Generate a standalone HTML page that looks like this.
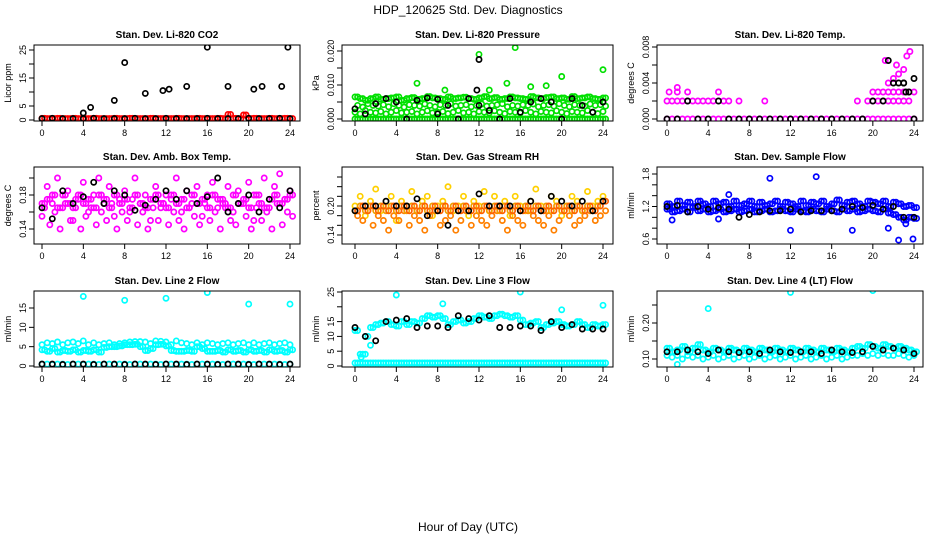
<!DOCTYPE html>
<html><head><meta charset="utf-8"><style>
html,body{margin:0;padding:0;background:#fff;}
svg{display:block;font-family:"Liberation Sans",sans-serif;}
</style></head><body>
<svg id="chart" width="936" height="540" viewBox="0 0 936 540" xmlns="http://www.w3.org/2000/svg">
<text x="468" y="14" font-size="12" text-anchor="middle">HDP_120625  Std. Dev. Diagnostics</text>
<text x="468" y="531" font-size="12" text-anchor="middle">Hour of Day (UTC)</text>
</svg>
<script>
// ---- data ----
const xTicks=[0,4,8,12,16,20,24];
// CO2
const co2Red=[0.6,0.5,0.5,0.6,0.5,0.5,0.6,0.5,0.5,0.5,0.6,0.5,0.5,0.5,0.6,0.5,0.5,0.6,0.5,0.5,0.5,0.6,0.5,0.5,0.5,0.5,0.6,0.5,0.5,0.5,0.6,0.5,0.5,0.5,0.6,0.5,2.0,0.6,0.5,1.8,0.5,0.6,0.5,0.5,0.6,0.5,0.5,0.6,0.5];
const co2Blk=[0.5,0.6,0.5,0.5,0.5,0.6,0.5,0.5,0.5,0.6,0.5,0.5,0.6,0.5,0.5,0.5,0.6,0.5,0.5,0.5,0.6,0.5,0.5,0.6,0.5];
const co2OutH=[4,4.7,7,8,10,11.7,12.3,14,16,18,20.5,21.3,23.2,23.8];
const co2OutV=[2.5,4.5,7,20.5,9.5,10.5,11,12,26,12,11,12,12,26];
// Pressure
const prsA=[0.0065,0.006,0.0055,0.006,0.0065,0.0058,0.006,0.0062,0.0065,0.0055,0.006,0.0063,0.0058,0.006,0.0066,0.0062,0.006,0.0058,0.0065,0.006,0.0062,0.0064,0.006,0.0058,0.0062,0.0066,0.006,0.0063,0.0058,0.006,0.0065,0.0062,0.006,0.0058,0.0066,0.0062,0.006,0.0063,0.0065,0.006,0.0062,0.0058,0.0066,0.006,0.0062,0.0065,0.006,0.0058,0.0062];
const prsB=[0.004,0.0035,0.0045,0.004,0.0038,0.0042,0.0036,0.0045,0.004,0.0035,0.0042,0.004,0.0038,0.0044,0.004,0.0036,0.0042,0.004,0.0045,0.0038,0.004,0.0042,0.0036,0.004,0.0044,0.0038,0.004,0.0042,0.0045,0.0036,0.004,0.0038,0.0042,0.004,0.0044,0.0036,0.004,0.0042,0.0038,0.0045,0.004,0.0036,0.0042,0.004,0.0038,0.0044,0.004,0.0042,0.0038];
const prsC=[0.002,0.0015,0.0025,0.002,0.0018,0.0022,0.0015,0.002,0.0025,0.0018,0.002,0.0022,0.0015,0.002,0.0024,0.0018,0.002,0.0022,0.0016,0.002,0.0025,0.0018,0.002,0.0015,0.0022,0.002,0.0018,0.0024,0.002,0.0016,0.0022,0.002,0.0018,0.0025,0.002,0.0015,0.0022,0.002,0.0018,0.0024,0.002,0.0016,0.0022,0.002,0.0018,0.0025,0.002,0.0016,0.0022];
const prsD=[0,0,0,0,0,0,0,0,0,0,0,0,0,0,0,0,0,0,0,0,0,0,0,0,0,0,0,0,0,0,0,0,0,0,0,0,0,0,0,0,0,0,0,0,0,0,0,0,0];
const prsBlk=[0.003,0.0015,0.0045,0.006,0.005,0.0,0.0055,0.0062,0.0058,0.004,0.0,0.006,0.004,0.0025,0.0,0.006,0.002,0.005,0.006,0.005,0.0,0.006,0.004,0.002,0.005];
const prsGrnOutH=[6,8.7,12,13,15.5,14.7,17,18.5,20,24];
const prsGrnOutV=[0.0105,0.0085,0.019,0.0085,0.021,0.0105,0.0095,0.0098,0.0125,0.0145];
const prsBlkOutH=[12,11.8,8];
const prsBlkOutV=[0.0175,0.0085,0.0015];
// Li-820 temp
const tmpMag=[0,0,0,0,0,0,0,0,0,0,0,0,0,0,0,0,0,0,0,0,0,0,0,0,0,0,0,0,0,0,0,0,0,0,0,0,0,0,0,0,0,0,0,0,0,0,0,0,0];
const tmpMagH=[0,0.5,1,1.5,2,2.5,3,3.5,4,4.5,5.5,6,7,9.5,18.5,19.5,20,20.5,21,21.5,22,22.5,23,23.5,0.2,1,2,5,20,20.5,21,21.5,22,22.5,23,23.5,24,1,21.5,22,22.5,23,23.3,23.6,21.2,22.3];
const tmpMagV=[0.002,0.002,0.002,0.002,0.002,0.002,0.002,0.002,0.002,0.002,0.002,0.002,0.002,0.002,0.002,0.002,0.002,0.002,0.002,0.002,0.002,0.002,0.002,0.002,0.003,0.003,0.003,0.003,0.003,0.003,0.003,0.003,0.003,0.003,0.003,0.003,0.003,0.0035,0.004,0.0045,0.005,0.0055,0.007,0.0075,0.0065,0.006];
const tmpBlk=[0,0,0.002,0,0,0.002,0,0,0,0,0,0,0,0,0,0,0,0,0,0,0.002,0.002,0.004,0.004,0];
const tmpBlkOutH=[21.5,22.5,23,23.5,24,23.2];
const tmpBlkOutV=[0.0065,0.004,0.004,0.003,0.0045,0.003];
// Amb box temp
const boxA=[0.155,0.19,0.17,0.2,0.165,0.185,0.15,0.175,0.195,0.16,0.18,0.2,0.17,0.19,0.155,0.175,0.185,0.16,0.2,0.17,0.18,0.15,0.19,0.165,0.18,0.175,0.2,0.16,0.185,0.17,0.19,0.155,0.18,0.195,0.165,0.175,0.19,0.16,0.185,0.17,0.195,0.15,0.18,0.2,0.165,0.19,0.205,0.175,0.185];
const boxB=[0.165,0.145,0.16,0.14,0.17,0.15,0.175,0.14,0.155,0.165,0.145,0.16,0.15,0.17,0.14,0.16,0.15,0.175,0.145,0.16,0.14,0.165,0.15,0.17,0.145,0.16,0.15,0.14,0.165,0.155,0.145,0.17,0.15,0.16,0.14,0.165,0.15,0.145,0.17,0.155,0.14,0.165,0.15,0.16,0.14,0.17,0.145,0.16,0.155];
const boxC=[0.17,0.175,0.18,0.165,0.18,0.17,0.165,0.18,0.17,0.175,0.165,0.18,0.175,0.165,0.18,0.17,0.175,0.165,0.18,0.17,0.165,0.175,0.18,0.17,0.165,0.18,0.17,0.175,0.165,0.18,0.17,0.175,0.165,0.18,0.175,0.17,0.165,0.18,0.17,0.175,0.165,0.18,0.17,0.165,0.175,0.18,0.17,0.175,0.18];
const boxBlk=[0.165,0.152,0.185,0.17,0.178,0.195,0.17,0.185,0.18,0.162,0.168,0.175,0.185,0.175,0.185,0.17,0.178,0.2,0.16,0.17,0.18,0.16,0.175,0.165,0.185];
// Gas stream RH
const rhA=[0.2,0.22,0.18,0.21,0.235,0.19,0.2,0.22,0.17,0.21,0.2,0.23,0.19,0.21,0.22,0.18,0.2,0.21,0.24,0.19,0.2,0.22,0.18,0.21,0.2,0.23,0.19,0.22,0.2,0.21,0.18,0.22,0.2,0.19,0.21,0.235,0.2,0.19,0.22,0.21,0.18,0.2,0.22,0.21,0.19,0.23,0.2,0.21,0.22];
const rhB=[0.18,0.17,0.19,0.16,0.18,0.17,0.15,0.18,0.17,0.19,0.16,0.18,0.17,0.15,0.18,0.19,0.16,0.17,0.18,0.15,0.17,0.19,0.16,0.18,0.17,0.16,0.18,0.19,0.17,0.15,0.18,0.17,0.16,0.19,0.18,0.17,0.16,0.18,0.15,0.17,0.19,0.18,0.16,0.17,0.18,0.19,0.17,0.18,0.19];
const rhC=[0.19,0.2,0.19,0.2,0.19,0.2,0.19,0.2,0.19,0.2,0.19,0.2,0.19,0.2,0.19,0.2,0.19,0.2,0.19,0.2,0.19,0.2,0.19,0.2,0.19,0.2,0.19,0.2,0.19,0.2,0.19,0.2,0.19,0.2,0.19,0.2,0.19,0.2,0.19,0.2,0.19,0.2,0.19,0.2,0.19,0.2,0.19,0.2,0.21];
const rhBlk=[0.19,0.2,0.2,0.21,0.2,0.2,0.215,0.18,0.19,0.16,0.19,0.19,0.225,0.2,0.2,0.2,0.19,0.21,0.19,0.22,0.21,0.2,0.21,0.19,0.21];
// Sample flow
const sfA=[1.25,1.2,1.3,1.22,1.28,1.2,1.3,1.25,1.2,1.3,1.25,1.28,1.2,1.3,1.22,1.25,1.3,1.2,1.28,1.22,1.25,1.3,1.2,1.28,1.25,1.2,1.3,1.22,1.28,1.25,1.3,1.2,1.25,1.32,1.22,1.28,1.3,1.25,1.2,1.3,1.28,1.25,1.3,1.2,1.28,1.25,1.2,1.22,1.18];
const sfB=[1.15,1.1,1.12,1.15,1.1,1.18,1.12,1.15,1.1,1.12,1.15,1.1,1.12,1.15,1.1,1.12,1.15,1.1,1.12,1.15,1.1,1.12,1.15,1.12,1.1,1.15,1.12,1.1,1.15,1.12,1.1,1.15,1.12,1.1,1.15,1.12,1.15,1.1,1.12,1.15,1.12,1.1,1.15,1.08,1.05,1.0,0.95,1.0,0.98];
const sfBlk=[1.2,1.22,1.1,1.2,1.15,1.18,1.15,1.0,1.05,1.1,1.12,1.12,1.15,1.1,1.12,1.12,1.12,1.15,1.2,1.18,1.22,1.15,1.2,1.0,1.0];
const sfOutH=[0.5,6,12,14.5,18,21.5,22.5,23.2,23.9,5,10];
const sfOutV=[0.95,1.42,0.76,1.75,0.76,0.8,0.58,0.88,0.6,0.97,1.72];
// Line 2 flow
const l2A=[5.5,6,5.8,6.2,5.5,6,6.2,5.8,6.5,5.5,6,5.5,5.8,6,5.5,5.8,6,6.2,6.3,6.3,6.2,5.8,6.5,6.4,6.2,5.5,6.5,6,5.8,5.5,6,5.5,6,5.8,5.5,5.8,6,5.5,5.8,6,5.5,6,5.5,5.8,6,5.5,5.8,6,5.5];
const l2B=[4.2,3.8,4.5,3.6,4,3.8,4.2,3.6,4,3.8,4.2,3.6,4.8,5,5,5.2,5.5,5.5,5.6,5,4,4.5,5.5,5.6,5.2,4,3.8,3.8,4,3.8,5,4.5,3.8,3.8,4,3.6,4.2,3.8,4,3.6,4.2,3.8,4,3.6,4.2,3.8,4,3.6,4.2];
const l2C=[0.5,0.5,0.4,0.5,0.5,0.4,0.5,0.5,0.4,0.5,0.5,0.4,0.5,0.5,0.4,0.5,0.5,0.4,0.5,0.5,0.4,0.5,0.5,0.4,0.5,0.5,0.4,0.5,0.5,0.4,0.5,0.5,0.4,0.5,0.5,0.4,0.5,0.5,0.4,0.5,0.5,0.4,0.5,0.5,0.4,0.5,0.5,0.4,0.5];
const l2Blk=[0.5,0.5,0.4,0.5,0.5,0.4,0.5,0.5,0.4,0.5,0.5,0.4,0.5,0.5,0.4,0.5,0.5,0.4,0.5,0.5,0.4,0.5,0.5,0.4,0.5];
const l2OutH=[4,8,12,16,20,24];
const l2OutV=[18,17,17.5,19,16,16];
// Line 3 flow
const l3A=[12,4,10,13,14,14.5,15,14,13.5,15,14,15,14.5,16,17,16.5,17,16,14,15,15.5,14.5,15,16,17,16.5,16,17,17.5,17,16.5,17,15.5,14,14.5,15,13,14,14.5,15,14,13.5,14,15,14,13,14,13.5,14];
const l3B=[1,1,1,1,1,1,1,1,1,1,1,1,1,1,1,1,1,1,1,1,1,1,1,1,1,1,1,1,1,1,1,1,1,1,1,1,1,1,1,1,1,1,1,1,1,1,1,1,1];
const l3Blk=[13,10,8.5,15,15.5,16,13,13.5,13.5,13,17,16,15.5,17,13,13,13.5,13.5,12,15,13,14,12.5,12.5,12.5];
const l3OutH=[4,8.5,16,20,24,0.6,1,1.5];
const l3OutV=[24,21,25,19,20.5,3,4,7];
// Line 4 flow
const l4A=[0.13,0.12,0.125,0.135,0.12,0.13,0.14,0.125,0.12,0.13,0.125,0.12,0.13,0.125,0.12,0.13,0.125,0.12,0.13,0.125,0.12,0.13,0.125,0.12,0.13,0.125,0.12,0.13,0.125,0.12,0.13,0.125,0.12,0.13,0.125,0.12,0.13,0.135,0.13,0.14,0.135,0.13,0.14,0.135,0.13,0.135,0.13,0.125,0.12];
const l4B=[0.11,0.105,0.11,0.1,0.11,0.105,0.11,0.1,0.105,0.11,0.1,0.105,0.11,0.1,0.105,0.11,0.1,0.105,0.11,0.1,0.105,0.11,0.1,0.105,0.11,0.1,0.105,0.11,0.1,0.105,0.11,0.1,0.105,0.11,0.1,0.105,0.11,0.11,0.115,0.11,0.115,0.11,0.115,0.11,0.11,0.115,0.11,0.105,0.11];
const l4Blk=[0.12,0.12,0.125,0.12,0.115,0.125,0.12,0.118,0.12,0.115,0.125,0.12,0.118,0.12,0.12,0.115,0.125,0.12,0.118,0.12,0.135,0.125,0.13,0.125,0.115];
const l4OutH=[4,12,20,1];
const l4OutV=[0.24,0.285,0.29,0.085];

// ---- drawing ----
const NS="http://www.w3.org/2000/svg";
const svg=document.getElementById('chart');
function mk(tag,attrs,parent){const e=document.createElementNS(NS,tag);for(const k in attrs)e.setAttribute(k,attrs[k]);(parent||svg).appendChild(e);return e;}
const cols=[{bx0:34,bx1:300,t0:42,t1:290},{bx0:342,bx1:613,t0:355,t1:603},{bx0:657,bx1:923,t0:667,t1:914}];
const rows=[{by0:45,by1:121},{by0:167,by1:244},{by0:291,by1:367}];
const half=[];for(let i=0;i<49;i++)half.push(i*0.5);
const qtr=[];for(let i=0;i<49;i++)qtr.push(i*0.5+0.25);
const hourly=[];for(let i=0;i<25;i++)hourly.push(i);

const panels=[
 {r:0,c:0,name:'co2',title:'Stan. Dev. Li-820 CO2',ylab:'Licor ppm',v0:0,p0:120,v1:25,p1:50,ticks:[0,5,10,15,20,25],tl:['0','5','','15','','25'],
  series:[[half,co2Red,'#ff0000'],[qtr,co2Red,'#ff0000'],[hourly,co2Blk,'#000'],[co2OutH,co2OutV,'#000']]},
 {r:0,c:1,name:'pressure',title:'Stan. Dev. Li-820 Pressure',ylab:'kPa',v0:0,p0:119,v1:0.02,p1:51,ticks:[0,0.005,0.01,0.015,0.02],tl:['0.000','','0.010','','0.020'],
  series:[[half,prsD,'#00e000'],[qtr,prsD,'#00e000'],[half,prsC,'#00e000'],[qtr,prsB,'#00e000'],[half,prsA,'#00e000'],[qtr,prsA,'#00e000'],[prsGrnOutH,prsGrnOutV,'#00e000'],[hourly,prsBlk,'#000'],[prsBlkOutH,prsBlkOutV,'#000']]},
 {r:0,c:2,name:'li820-temp',title:'Stan. Dev. Li-820 Temp.',ylab:'degrees C',v0:0,p0:119,v1:0.008,p1:47,ticks:[0,0.002,0.004,0.006,0.008],tl:['0.000','','0.004','','0.008'],
  series:[[half,tmpMag,'#ff00ff'],[tmpMagH,tmpMagV,'#ff00ff'],[hourly,tmpBlk,'#000'],[tmpBlkOutH,tmpBlkOutV,'#000']]},
 {r:1,c:0,name:'box-temp',title:'Stan. Dev. Amb. Box Temp.',ylab:'degrees C',v0:0.14,p0:229,v1:0.18,p1:195,ticks:[0.14,0.16,0.18,0.2],tl:['0.14','','0.18',''],
  series:[[half,boxA,'#ff00ff'],[qtr,boxB,'#ff00ff'],[half,boxC,'#ff00ff'],[qtr,boxC,'#ff00ff'],[hourly,boxBlk,'#000']]},
 {r:1,c:1,name:'gas-rh',title:'Stan. Dev. Gas Stream RH',ylab:'percent',v0:0.14,p0:235,v1:0.2,p1:206,ticks:[0.14,0.16,0.18,0.2,0.22,0.24,0.26],tl:['0.14','','','0.20','','',''],
  series:[[half,rhA,'#ffd000'],[qtr,rhB,'#ff8000'],[half,rhC,'#f0a000'],[qtr,rhC,'#ff6000'],[hourly,rhBlk,'#000']]},
 {r:1,c:2,name:'sample-flow',title:'Stan. Dev. Sample Flow',ylab:'ml/min',v0:0.6,p0:239,v1:1.8,p1:174,ticks:[0.6,0.8,1.0,1.2,1.4,1.6,1.8],tl:['0.6','','','1.2','','','1.8'],
  series:[[half,sfA,'#0000ff'],[qtr,sfA,'#0000ff'],[half,sfB,'#0000ff'],[qtr,sfB,'#0000ff'],[sfOutH,sfOutV,'#0000ff'],[hourly,sfBlk,'#000']]},
 {r:2,c:0,name:'line2-flow',title:'Stan. Dev. Line 2 Flow',ylab:'ml/min',v0:0,p0:366,v1:15,p1:308,ticks:[0,5,10,15],tl:['0','5','10','15'],
  series:[[half,l2A,'#00ffff'],[half,l2B,'#00ffff'],[qtr,l2B,'#00ffff'],[half,l2C,'#00ffff'],[l2OutH,l2OutV,'#00ffff'],[hourly,l2Blk,'#000']]},
 {r:2,c:1,name:'line3-flow',title:'Stan. Dev. Line 3 Flow',ylab:'ml/min',v0:0,p0:366,v1:25,p1:292,ticks:[0,5,10,15,20,25],tl:['0','5','10','15','','25'],
  series:[[half,l3B,'#00ffff'],[qtr,l3B,'#00ffff'],[half,l3A,'#00ffff'],[qtr,l3A,'#00ffff'],[l3OutH,l3OutV,'#00ffff'],[hourly,l3Blk,'#000']]},
 {r:2,c:2,name:'line4-flow',title:'Stan. Dev. Line 4 (LT) Flow',ylab:'ml/min',v0:0.1,p0:359,v1:0.2,p1:323,ticks:[0.1,0.15,0.2,0.25],tl:['0.10','','0.20',''],
  series:[[half,l4A,'#00ffff'],[qtr,l4A,'#00ffff'],[half,l4B,'#00ffff'],[l4OutH,l4OutV,'#00ffff'],[hourly,l4Blk,'#000']]}
];

panels.forEach(p=>{
  const C=cols[p.c],R=rows[p.r];
  const xs=h=>C.t0+(h/24)*(C.t1-C.t0);
  const ys=v=>p.p0+(v-p.v0)*(p.p1-p.p0)/(p.v1-p.v0);
  const g=mk('g',{});
  
  
  const clip=mk('clipPath',{id:'cl-'+p.name},g);
  mk('rect',{x:C.bx0,y:R.by0,width:C.bx1-C.bx0,height:R.by1-R.by0},clip);
  const t=mk('text',{x:(C.bx0+C.bx1)/2,y:R.by0-7,'font-size':10,'font-weight':'bold','text-anchor':'middle'},g);
  t.textContent=p.title;
  
  
  const marks=mk('g',{'clip-path':'url(#cl-'+p.name+')',fill:'none','stroke-width':1.7},g);
  
  
  p.series.forEach(s=>{
    const H=s[0],V=s[1];
    for(let i=0;i<V.length;i++){
      const c=mk('circle',{cx:xs(H[i]).toFixed(1),cy:ys(V[i]).toFixed(1),r:2.6,stroke:s[2]},marks);
      
      
    }
  });
  const box=mk('rect',{x:C.bx0,y:R.by0,width:C.bx1-C.bx0,height:R.by1-R.by0,fill:'none',stroke:'#000','stroke-width':1},g);
  
  
  const xa=mk('g',{},g);
  
  
  mk('line',{x1:C.t0,x2:C.t1,y1:R.by1,y2:R.by1,stroke:'#000'},xa);
  xTicks.forEach(h=>{
    mk('line',{x1:xs(h),x2:xs(h),y1:R.by1,y2:R.by1+5,stroke:'#000'},xa);
    const tt=mk('text',{x:xs(h),y:R.by1+15,'font-size':9,'text-anchor':'middle'},xa);
    tt.textContent=h;
  });
  const ya=mk('g',{},g);
  
  
  const yt=p.ticks.map(ys);
  mk('line',{x1:C.bx0,x2:C.bx0,y1:Math.min(...yt),y2:Math.max(...yt),stroke:'#000'},ya);
  p.ticks.forEach((v,i)=>{
    const y=ys(v);
    mk('line',{x1:C.bx0-5,x2:C.bx0,y1:y,y2:y,stroke:'#000'},ya);
    if(p.tl[i]){const tt=mk('text',{x:C.bx0-8,y:y,'font-size':9,'text-anchor':'middle',transform:'rotate(-90 '+(C.bx0-8)+' '+y+')'},ya);tt.textContent=p.tl[i];}
  });
  const yl=mk('text',{x:C.bx0-23,y:(R.by0+R.by1)/2,'font-size':9,'text-anchor':'middle',transform:'rotate(-90 '+(C.bx0-23)+' '+((R.by0+R.by1)/2)+')'},g);
  yl.textContent=p.ylab;
  
  
});
</script>
</body></html>
